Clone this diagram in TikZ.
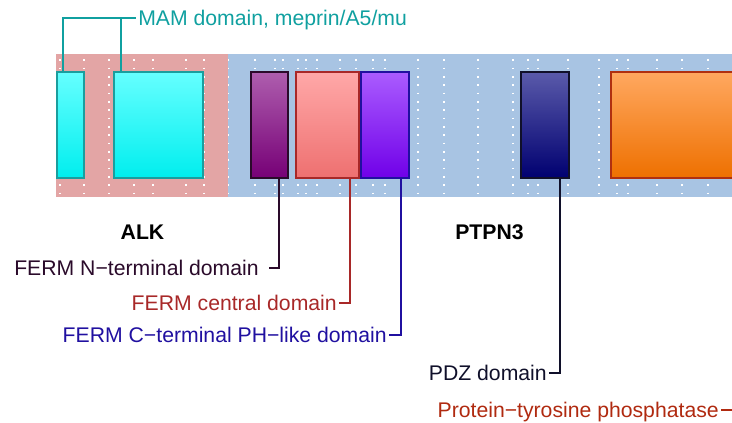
\documentclass[tikz,border=0pt]{standalone}
\usepackage{fontspec}
\setmainfont{Liberation Sans}
\usetikzlibrary{fit}
\definecolor{bandpink}{HTML}{E3A5A5}
\definecolor{bandblue}{HTML}{A8C4E3}
\definecolor{cyT}{HTML}{66FFFF}\definecolor{cyB}{HTML}{00EEEE}\definecolor{cyD}{HTML}{1A9E9E}
\definecolor{puT}{HTML}{AE5EAE}\definecolor{puB}{HTML}{760076}\definecolor{puD}{HTML}{2A0A2A}
\definecolor{saT}{HTML}{FFA8A8}\definecolor{saB}{HTML}{EE7070}\definecolor{saD}{HTML}{A82828}
\definecolor{viT}{HTML}{AA5CFF}\definecolor{viB}{HTML}{7000E8}\definecolor{viD}{HTML}{2010A0}
\definecolor{naT}{HTML}{5A5AAA}\definecolor{naB}{HTML}{000070}\definecolor{naD}{HTML}{10102A}
\definecolor{orT}{HTML}{FFA860}\definecolor{orB}{HTML}{EE7000}\definecolor{orD}{HTML}{B03010}
\definecolor{tealtxt}{HTML}{10A0A0}
\definecolor{ptptxt}{HTML}{B02A10}
\begin{document}
\begin{tikzpicture}[x=0.75pt,y=-0.75pt,
  dombox/.style={inner sep=0pt, line width=1.4pt},
  dotline/.style={white, line width=1.3pt, dash pattern=on 1.3pt off 4.95pt},
  lab/.style={font=\fontsize{15.9}{18}\selectfont, text height=11.3pt, text depth=0pt, inner ysep=0pt, inner xsep=1.5pt, anchor=east},
  conn/.style={line width=1.5pt},
  gname/.style={font=\fontsize{15.9}{18}\selectfont\bfseries, inner sep=0pt}]
\useasboundingbox (0,0) rectangle (732,422);
\clip (0,0) rectangle (732,422);
% bands
\fill[bandpink] (56,54) rectangle (228,197);
\fill[bandblue] (228,54) rectangle (760,197);
% dotted grid
\foreach \x in {60,84.3,109.3,134.3,153.3,186,204,228.5,254.7,274.7,283,298,306.3,317.3,339.7,356.3,373,384.7,418.3,444.3,477.7,513.3,527.7,538.3,568.3,599.3,616.7,628.3,656.7,681.7,708.3}
  \draw[dotline] (\x,59.3) -- (\x,194);
% domain boxes
\node[dombox, fit={(57,72) (84,178)}, draw=cyD, top color=cyT, bottom color=cyB] (b1) {};
\node[dombox, fit={(114,72) (203,178)}, draw=cyD, top color=cyT, bottom color=cyB] (b2) {};
\node[dombox, fit={(251,72) (288,178)}, draw=puD, top color=puT, bottom color=puB] (b3) {};
\node[dombox, fit={(296,72) (359,178)}, draw=saD, top color=saT, bottom color=saB] (b4) {};
\node[dombox, fit={(361,72) (409,178)}, draw=viD, top color=viT, bottom color=viB] (b5) {};
\node[dombox, fit={(521,72) (569,178)}, draw=naD, top color=naT, bottom color=naB] (b6) {};
\node[dombox, fit={(611,72) (800,178)}, draw=orD, top color=orT, bottom color=orB] (b7) {};
% group names
\node[gname] (alk) at (142.5,232.5) {ALK};
\node[gname] (ptpn3) at (489.5,232.5) {PTPN3};
% labels
\node[lab, text=tealtxt, anchor=west] (mam) at (136,18) {MAM domain, meprin/A5/mu};
\node[lab, text=puD, inner xsep=7.5pt] (l1) at (269,267.7) {FERM N−terminal domain};
\node[lab, text=saD] (l2) at (339,303.3) {FERM central domain};
\node[lab, text=viD] (l3) at (389,335) {FERM C−terminal PH−like domain};
\node[lab, text=naD] (l4) at (549,373) {PDZ domain};
\node[lab, text=ptptxt] (l5) at (721,410) {Protein−tyrosine phosphatase};
% connectors
\draw[conn, tealtxt] ([xshift=5.25pt]b1.north west) |- (mam.west);
\draw[conn, tealtxt] ([xshift=5.8pt]b2.north west) |- (mam.west);
\draw[conn, puD] ([xshift=21.75pt]b3.south west) |- (l1.east);
\draw[conn, saD] ([xshift=41.25pt]b4.south west) |- (l2.east);
\draw[conn, viD] ([xshift=30.75pt]b5.south west) |- (l3.east);
\draw[conn, naD] ([xshift=30pt]b6.south west) |- (l4.east);
\draw[conn, ptptxt] ([xshift=100pt]b7.south west) |- (l5.east);
\end{tikzpicture}
\end{document}
